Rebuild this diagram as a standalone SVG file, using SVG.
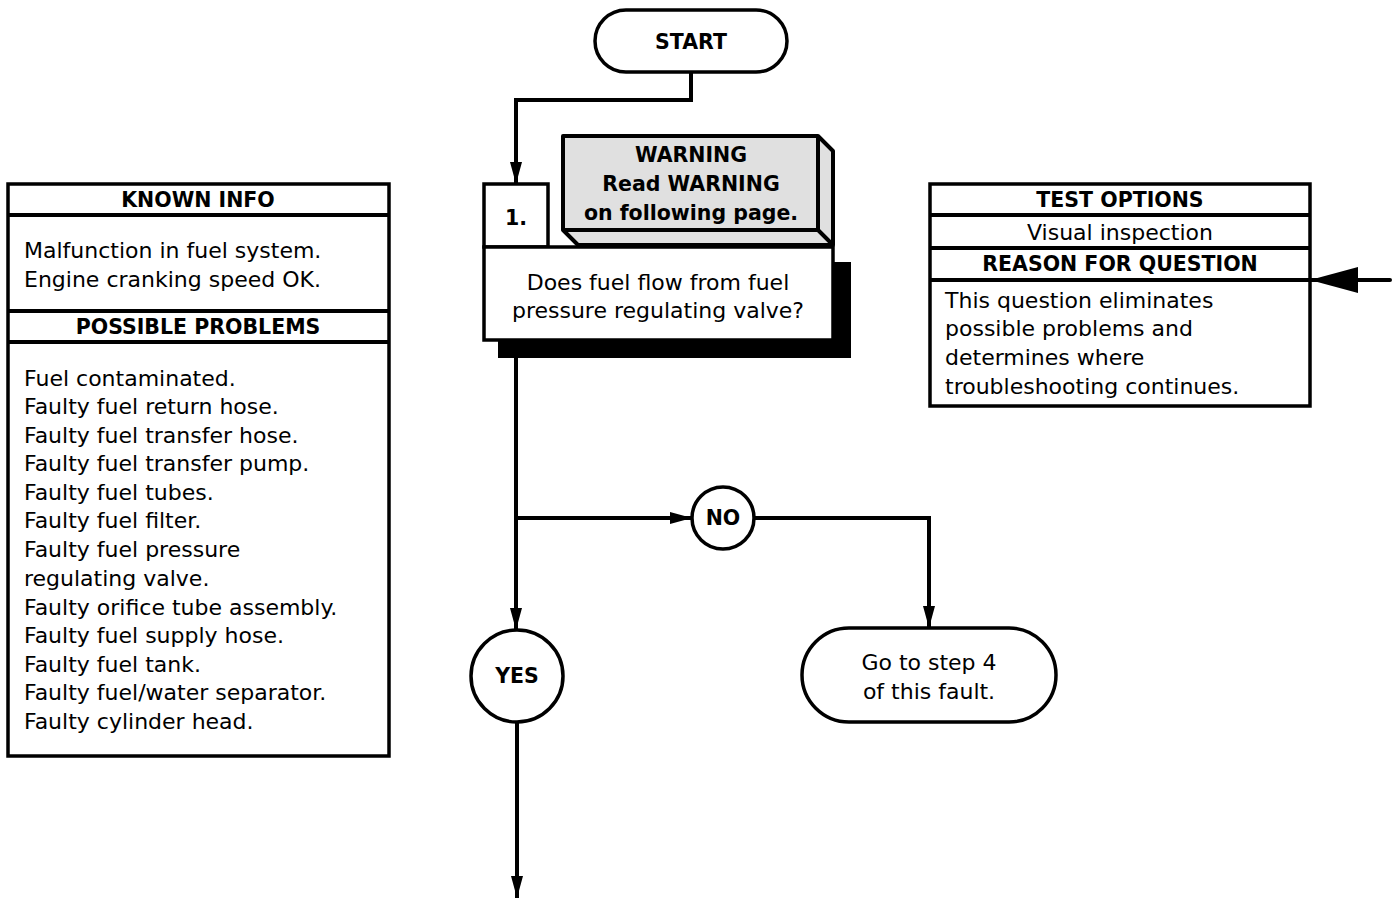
<svg xmlns="http://www.w3.org/2000/svg" width="1399" height="898" viewBox="0 0 1399 898">
<style>
text{font-family:"DejaVu Sans","Liberation Sans",sans-serif;font-size:22px;fill:#000}
.b{font-weight:bold;font-size:20.5px}
.c{text-anchor:middle}
.box{fill:#fff;stroke:#000;stroke-width:3.5}
.ln{fill:none;stroke:#000;stroke-width:4}
.conn{fill:none;stroke:#000;stroke-width:4}
</style>
<defs>
<marker id="ah" markerUnits="userSpaceOnUse" markerWidth="22" markerHeight="12" refX="22" refY="6" orient="auto" viewBox="0 0 22 12">
<path d="M0,0 L22,6 L0,12 Z" fill="#000"/>
</marker>
<marker id="big" markerUnits="userSpaceOnUse" markerWidth="48" markerHeight="26" refX="48" refY="13" orient="auto" viewBox="0 0 48 26">
<path d="M0,0 L48,13 L0,26 Z" fill="#000"/>
</marker>
</defs>
<g id="connectors">
<path class="conn" d="M691,72 V100 H516 V184" marker-end="url(#ah)"/>
<path class="conn" d="M516,350 V630" marker-end="url(#ah)"/>
<path class="conn" d="M516,518 H692" marker-end="url(#ah)"/>
<path class="conn" d="M754,518 H929 V628" marker-end="url(#ah)"/>
<path class="conn" d="M517,722 V898" marker-end="url(#ah)"/>
<path class="conn" d="M1390,280 H1310" stroke-width="6" stroke-linecap="round" marker-end="url(#big)"/>
</g>
<g id="start">
<rect class="box" x="595" y="10" width="192" height="62" rx="31"/>
<text class="b c" x="691" y="49">START</text>
</g>
<g id="warning">
<path d="M563,136 H818 L833,151 V245 H578 L563,230 Z" fill="#e0e0e0" stroke="#000" stroke-width="4" stroke-linejoin="round"/>
<path d="M563,230 H818 V136 M818,230 L833,245" fill="none" stroke="#000" stroke-width="4"/>
<text class="b c" x="691" y="162">WARNING</text>
<text class="b c" x="691" y="191">Read WARNING</text>
<text class="b c" x="691" y="220">on following page.</text>
</g>
<g id="step1">
<rect x="498" y="262" width="353" height="96" fill="#000"/>
<rect class="box" x="484" y="184" width="64" height="63"/>
<text class="b c" x="516" y="225">1.</text>
<rect class="box" x="484" y="247" width="349" height="93"/>
<text class="c" x="658" y="290">Does fuel flow from fuel</text>
<text class="c" x="658" y="318">pressure regulating valve?</text>
</g>
<g id="no">
<circle class="box" cx="723" cy="518" r="31" stroke-width="4"/>
<text class="b c" x="723" y="525">NO</text>
</g>
<g id="yes">
<circle class="box" cx="517" cy="676" r="46" stroke-width="4"/>
<text class="b c" x="517" y="683">YES</text>
</g>
<g id="goto">
<rect class="box" x="802" y="628" width="254" height="94" rx="47" stroke-width="4"/>
<text class="c" x="929" y="670">Go to step 4</text>
<text class="c" x="929" y="699">of this fault.</text>
</g>
<g id="known">
<rect class="box" x="8" y="184" width="381" height="572"/>
<line class="ln" x1="8" y1="215" x2="389" y2="215"/>
<line class="ln" x1="8" y1="311" x2="389" y2="311"/>
<line class="ln" x1="8" y1="342" x2="389" y2="342"/>
<text class="b c" x="198" y="207">KNOWN INFO</text>
<text x="24" y="258">Malfunction in fuel system.</text>
<text x="24" y="287">Engine cranking speed OK.</text>
<text class="b c" x="198" y="334">POSSIBLE PROBLEMS</text>
<text x="24" y="386">Fuel contaminated.</text>
<text x="24" y="414">Faulty fuel return hose.</text>
<text x="24" y="443">Faulty fuel transfer hose.</text>
<text x="24" y="471">Faulty fuel transfer pump.</text>
<text x="24" y="500">Faulty fuel tubes.</text>
<text x="24" y="528">Faulty fuel filter.</text>
<text x="24" y="557">Faulty fuel pressure</text>
<text x="24" y="586">regulating valve.</text>
<text x="24" y="615">Faulty orifice tube assembly.</text>
<text x="24" y="643">Faulty fuel supply hose.</text>
<text x="24" y="672">Faulty fuel tank.</text>
<text x="24" y="700">Faulty fuel/water separator.</text>
<text x="24" y="729">Faulty cylinder head.</text>
</g>
<g id="test">
<rect class="box" x="930" y="184" width="380" height="222"/>
<line class="ln" x1="930" y1="215" x2="1310" y2="215"/>
<line class="ln" x1="930" y1="248" x2="1310" y2="248"/>
<line class="ln" x1="930" y1="280" x2="1310" y2="280" stroke-width="5"/>
<text class="b c" x="1120" y="207">TEST OPTIONS</text>
<text class="c" x="1120" y="240">Visual inspection</text>
<text class="b c" x="1120" y="271">REASON FOR QUESTION</text>
<text x="945" y="308">This question eliminates</text>
<text x="945" y="336">possible problems and</text>
<text x="945" y="365">determines where</text>
<text x="945" y="394">troubleshooting continues.</text>
</g>
</svg>
